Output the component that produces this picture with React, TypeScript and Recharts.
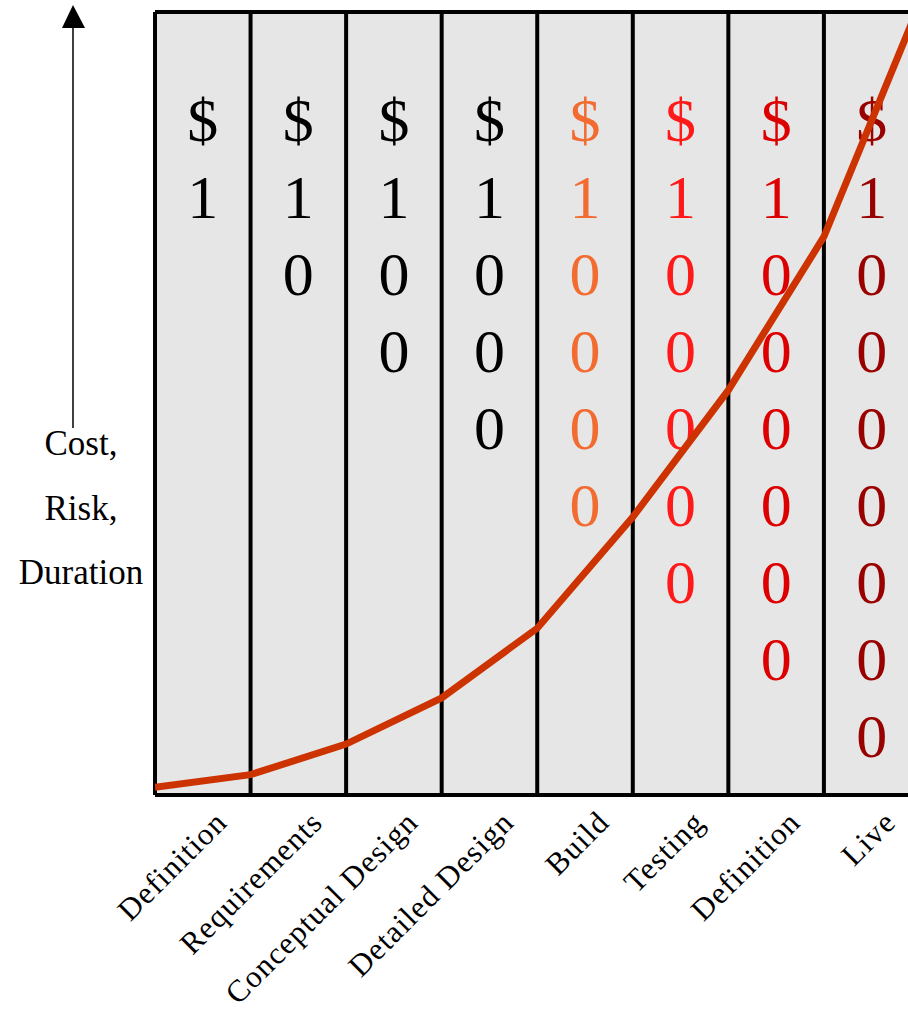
import { ComposedChart, Line, XAxis, YAxis, ReferenceArea, ReferenceLine } from "recharts";

const stages = [
  "Definition",
  "Requirements",
  "Conceptual Design",
  "Detailed Design",
  "Build",
  "Testing",
  "Definition",
  "Live",
];
const stageCosts = [1, 10, 100, 1000, 10000, 100000, 1000000, 10000000];
// curve height at each stage boundary (0..8), % of the panel height
const curveLevels = [1.0, 2.6, 6.5, 12.4, 21.3, 35.5, 51.7, 71.3, 101];
const axisTitle = ["Cost,", "Risk,", "Duration"];

const costColors = [
  "#000000",
  "#000000",
  "#000000",
  "#000000",
  "#f26b30",
  "#ff1a1a",
  "#dd0000",
  "#990000",
];

const SERIF = '"Liberation Serif", "Times New Roman", serif';
const X_MAX = 7.88;

const curveData = curveLevels.map((level, phase) => ({ phase, level }));
const tickPositions = stages.map((_, i) => i + 0.5);

function StageTick({ x, y, payload }: any) {
  const name = stages[Math.floor(payload.value)];
  const ax = x + 26;
  const ay = y + 29;
  return (
    <text
      x={ax}
      y={ay}
      textAnchor="end"
      transform={`rotate(-45, ${ax}, ${ay})`}
      fontFamily={SERIF}
      fontSize={31}
      letterSpacing={1.2}
      fill="#000"
    >
      {name}
    </text>
  );
}

function columnShape(i: number) {
  return (props: any) => {
    const { x, y, width, height, clipPath } = props;
    const chars = ["$", ...String(stageCosts[i]).split("")];
    const cx = x + width / 2;
    return (
      <g>
        <rect x={x} y={y} width={width} height={height} fill="#e6e6e6" clipPath={clipPath} />
        {chars.map((c, k) => (
          <text
            key={k}
            x={cx}
            y={y + 129 + k * 77}
            textAnchor="middle"
            fontFamily={SERIF}
            fontSize={62}
            fill={costColors[i]}
          >
            {c}
          </text>
        ))}
      </g>
    );
  };
}

function AxisTitle(props: any) {
  const vb = props.viewBox || { x: 0, y: 12, width: 155, height: 783 };
  const ax = vb.x + 73;
  const top = vb.y;
  return (
    <g>
      <polygon
        points={`${ax - 11},${top + 16} ${ax + 12},${top + 16} ${ax},${top - 7}`}
        fill="#000"
      />
      <line x1={ax} y1={top + 14} x2={ax} y2={top + 416} stroke="#000" strokeWidth={1.5} />
      {axisTitle.map((t, k) => (
        <text
          key={t}
          x={vb.x + 81}
          y={top + 443 + k * 64.5}
          textAnchor="middle"
          fontFamily={SERIF}
          fontSize={35}
          fill="#000"
        >
          {t}
        </text>
      ))}
    </g>
  );
}

export default function App() {
  return (
    <div style={{ position: "absolute", left: 0, top: 0 }}>
      <ComposedChart
        width={908}
        height={1017}
        data={curveData}
        margin={{ top: 12, right: 0, left: 0, bottom: 0 }}
      >
        <XAxis
          dataKey="phase"
          type="number"
          domain={[0, X_MAX]}
          allowDataOverflow
          ticks={tickPositions}
          interval={0}
          height={222}
          axisLine={false}
          tickLine={false}
          tickSize={0}
          tickMargin={0}
          tick={<StageTick />}
        />
        <YAxis
          type="number"
          domain={[0, 100]}
          allowDataOverflow
          width={155}
          axisLine={false}
          tickLine={false}
          tick={false}
          label={{ content: <AxisTitle /> }}
        />
        {stages.map((s, i) => (
          <ReferenceArea
            key={"col" + i}
            x1={i}
            x2={i + 1}
            y1={0}
            y2={100}
            ifOverflow="hidden"
            shape={columnShape(i)}
          />
        ))}
        {stages.map((s, i) => (
          <ReferenceLine key={"v" + i} x={i} stroke="#000" strokeWidth={4} />
        ))}
        <ReferenceLine y={0} stroke="#000" strokeWidth={4} />
        <ReferenceLine y={100} stroke="#000" strokeWidth={4} />
        <Line
          dataKey="level"
          type="linear"
          stroke="#cc3300"
          strokeWidth={7}
          dot={false}
          activeDot={false}
          isAnimationActive={false}
        />
      </ComposedChart>
    </div>
  );
}
